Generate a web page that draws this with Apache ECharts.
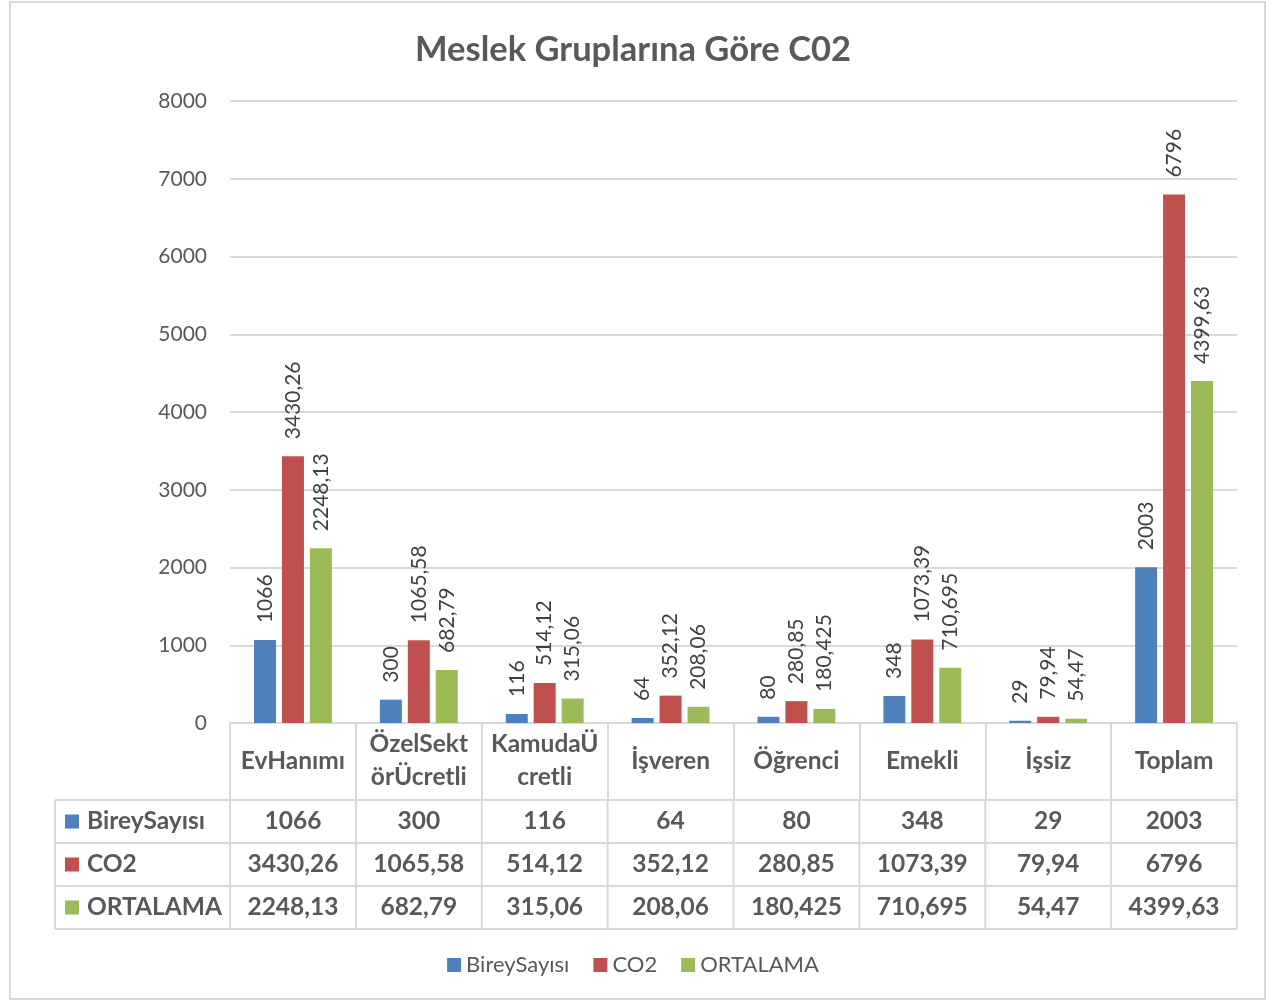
<!DOCTYPE html>
<html>
<head>
<meta charset="utf-8">
<script src="https://cdn.jsdelivr.net/npm/echarts@6/dist/echarts.min.js"></script>
<style>
  html, body { margin: 0; padding: 0; background: #fff; }
  #main { width: 1266px; height: 1001px; }
</style>
</head>
<body>
<div id="main"></div>
<script>
// kategoriler ve seriler
const categories = ['EvHanımı', 'ÖzelSektörÜcretli', 'KamudaÜcretli', 'İşveren', 'Öğrenci', 'Emekli', 'İşsiz', 'Toplam']
// tablo başlığında görünen (satır kırılmış) etiketler
const categoryLabels = ['EvHanımı', 'ÖzelSekt\nörÜcretli', 'KamudaÜ\ncretli', 'İşveren', 'Öğrenci', 'Emekli', 'İşsiz', 'Toplam']
const seriesNames = ['BireySayısı', 'CO2', 'ORTALAMA']
const bireySayisi = [1066, 300, 116, 64, 80, 348, 29, 2003]
const co2 = [3430.26, 1065.58, 514.12, 352.12, 280.85, 1073.39, 79.94, 6796]
const ortalama = [2248.13, 682.79, 315.06, 208.06, 180.425, 710.695, 54.47, 4399.63]
const colors = ['#4f81bd', '#c0504d', '#9bbb59']

const FONT = 'Lato, "Open Sans", sans-serif'
const TXT = '#595959'
const LINE = '#d9d9d9'

// grid sınırları
const G = { left: 230, right: 1237, top: 101, bottom: 723 }
const rowH = 43
const headerBottom = 800
const tableLeft = 55
const TABLE_FONT = 'bold 24.5px ' + FONT

const fmt = (v) => String(v).replace('.', ',')

const chart = echarts.init(document.getElementById('main'))

const allData = [bireySayisi, co2, ortalama]

const option = {
  animation: false,
  title: {
    text: 'Meslek Gruplarına Göre C02',
    left: 'center',
    top: 27,
    textStyle: { fontFamily: FONT, fontSize: 34.5, fontWeight: 'bold', color: TXT }
  },
  legend: {
    bottom: 20,
    left: 'center',
    icon: 'rect',
    itemWidth: 14,
    itemHeight: 14,
    itemGap: 24,
    data: seriesNames,
    textStyle: { fontFamily: FONT, fontSize: 22, color: TXT }
  },
  grid: {
    left: G.left,
    right: 1266 - G.right,
    top: G.top,
    bottom: 1001 - G.bottom,
    containLabel: false
  },
  xAxis: {
    type: 'category',
    data: categories,
    axisLine: { lineStyle: { color: LINE, width: 2 } },
    axisTick: { show: true, length: 77, lineStyle: { color: LINE, width: 2 } },
    axisLabel: {
      interval: 0,
      margin: 38,
      verticalAlign: 'middle',
      lineHeight: 33,
      fontFamily: FONT,
      fontSize: 24.5,
      fontWeight: 'bold',
      color: TXT,
      formatter: (v, i) => categoryLabels[i]
    }
  },
  yAxis: {
    type: 'value',
    min: 0,
    max: 8000,
    interval: 1000,
    axisLine: { show: false },
    axisTick: { show: false },
    splitLine: { lineStyle: { color: LINE, width: 2 } },
    axisLabel: { margin: 23, fontFamily: FONT, fontSize: 21, color: TXT, formatter: (v) => String(v) }
  },
  series: seriesNames.map((name, i) => ({
    name: name,
    type: 'bar',
    data: allData[i],
    barWidth: 22,
    barGap: '27%',
    itemStyle: { color: colors[i] },
    label: {
      show: true,
      position: 'top',
      rotate: 90,
      align: 'left',
      verticalAlign: 'middle',
      distance: 17,
      fontFamily: FONT,
      fontSize: 21,
      color: '#404040',
      formatter: (p) => fmt(p.value)
    }
  }))
}

chart.setOption(option)

// veri tablosu (alt kısım)
const graphics = []
// dış çerçeve
graphics.push({
  type: 'rect',
  shape: { x: 10, y: 2, width: 1255, height: 997 },
  style: { fill: 'none', stroke: LINE, lineWidth: 2 },
  silent: true
})
const tableBottom = headerBottom + rowH * 3
// yatay çizgiler
for (let r = 0; r <= 3; r++) {
  const y = headerBottom + r * rowH
  graphics.push({
    type: 'line',
    shape: { x1: tableLeft, y1: y, x2: G.right, y2: y },
    style: { stroke: LINE, lineWidth: 2 },
    silent: true
  })
}
// dikey çizgiler
graphics.push({
  type: 'line',
  shape: { x1: tableLeft, y1: headerBottom, x2: tableLeft, y2: tableBottom },
  style: { stroke: LINE, lineWidth: 2 },
  silent: true
})
const cw = (G.right - G.left) / categories.length
for (let c = 0; c <= categories.length; c++) {
  const x = G.left + c * cw
  graphics.push({
    type: 'line',
    shape: { x1: x, y1: headerBottom, x2: x, y2: tableBottom },
    style: { stroke: LINE, lineWidth: 2 },
    silent: true
  })
}
// satırlar
seriesNames.forEach((name, r) => {
  const yc = headerBottom + r * rowH + rowH / 2
  graphics.push({
    type: 'rect',
    shape: { x: 65, y: yc - 7, width: 14, height: 14 },
    style: { fill: colors[r] },
    silent: true
  })
  graphics.push({
    type: 'text',
    x: 87,
    y: yc,
    style: {
      text: name,
      font: TABLE_FONT,
      fill: TXT,
      verticalAlign: 'middle',
      align: 'left'
    },
    silent: true
  })
  allData[r].forEach((v, c) => {
    const xc = chart.convertToPixel({ xAxisIndex: 0 }, c)
    graphics.push({
      type: 'text',
      x: xc,
      y: yc,
      style: {
        text: fmt(v),
        font: TABLE_FONT,
        fill: TXT,
        verticalAlign: 'middle',
        align: 'center'
      },
      silent: true
    })
  })
})

chart.setOption({ graphic: graphics })
</script>
</body>
</html>
